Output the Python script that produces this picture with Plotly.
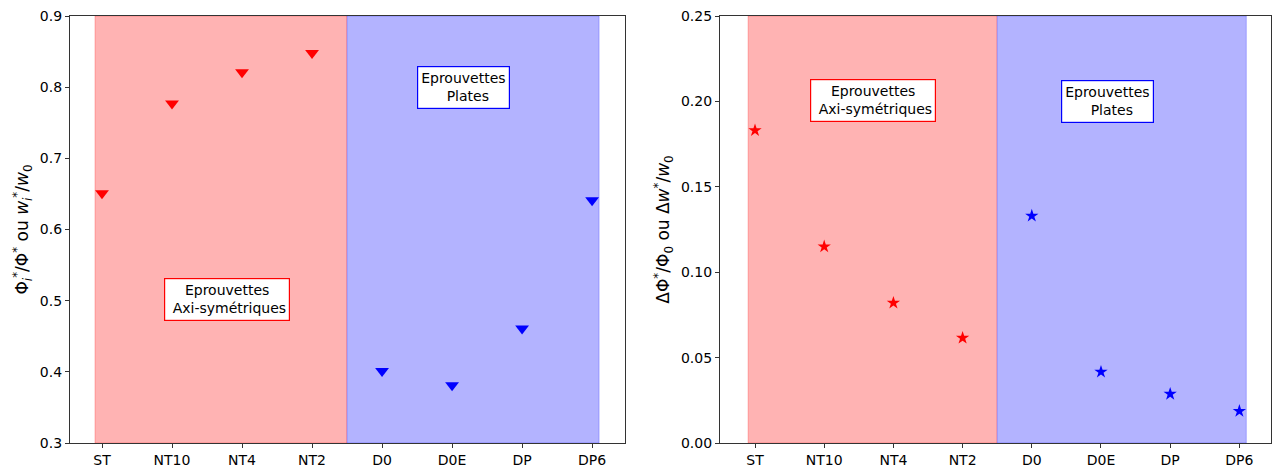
import plotly.graph_objects as go

categories = ["ST", "NT10", "NT4", "NT2", "D0", "D0E", "DP", "DP6"]
axi_cats = categories[:4]
plate_cats = categories[4:]

ratio_axi = [0.651, 0.777, 0.821, 0.848]
ratio_plate = [0.401, 0.381, 0.461, 0.641]

delta_axi = [0.183, 0.115, 0.082, 0.0615]
delta_plate = [0.133, 0.0416, 0.0287, 0.0187]

W, H = 1273, 468
FONT = "DejaVu Sans"

fig = go.Figure()

fig.add_trace(go.Scatter(x=axi_cats, y=ratio_axi, mode="markers",
                         marker=dict(symbol="triangle-down", size=12, color="red"),
                         xaxis="x", yaxis="y", showlegend=False))
fig.add_trace(go.Scatter(x=plate_cats, y=ratio_plate, mode="markers",
                         marker=dict(symbol="triangle-down", size=12, color="blue"),
                         xaxis="x", yaxis="y", showlegend=False))
fig.add_trace(go.Scatter(x=axi_cats, y=delta_axi, mode="markers",
                         marker=dict(symbol="star", size=10, color="red"),
                         xaxis="x2", yaxis="y2", showlegend=False))
fig.add_trace(go.Scatter(x=plate_cats, y=delta_plate, mode="markers",
                         marker=dict(symbol="star", size=10, color="blue"),
                         xaxis="x2", yaxis="y2", showlegend=False))

ydom = [(468 - 443) / H, (468 - 16) / H]
axis_common = dict(showgrid=False, zeroline=False, showline=True, mirror=True,
                   linecolor="#333333", linewidth=1.2, ticks="outside", ticklen=4,
                   tickcolor="#333333", automargin=False,
                   tickfont=dict(family=FONT, size=14, color="black"))

fig.update_layout(
    width=W, height=H,
    margin=dict(l=0, r=0, t=0, b=0, autoexpand=False),
    paper_bgcolor="white", plot_bgcolor="white",
    font=dict(family=FONT, color="black"),
    xaxis=dict(domain=[70 / W, 625 / W], anchor="y", type="category",
               categoryorder="array", categoryarray=categories,
               range=[-0.457, 7.47], **axis_common),
    yaxis=dict(domain=ydom, anchor="x", range=[0.3, 0.9], dtick=0.1, tickformat=".1f",
               title=dict(text="Φ<sub><i>i</i></sub><sup>*</sup>/Φ<sup>*</sup> ou <i>w</i><sub><i>i</i></sub><sup>*</sup>/<i>w</i><sub>0</sub>",
                          font=dict(family=FONT, size=17), standoff=6),
               **axis_common),
    xaxis2=dict(domain=[720 / W, 1271 / W], anchor="y2", type="category",
                categoryorder="array", categoryarray=categories,
                range=[-0.506, 7.457], **axis_common),
    yaxis2=dict(domain=ydom, anchor="x2", range=[0, 0.25], dtick=0.05, tickformat=".2f",
                title=dict(text="ΔΦ<sup>*</sup>/Φ<sub>0</sub> ou Δ<i>w</i><sup>*</sup>/<i>w</i><sub>0</sub>",
                           font=dict(family=FONT, size=17), standoff=6),
                **axis_common),
)

for xr, yr in (("x", "y"), ("x2", "y2")):
    fig.add_shape(type="rect", xref=xr, yref=yr + " domain", x0=-0.1, x1=3.5, y0=0, y1=1,
                  fillcolor="rgb(255,179,179)", line=dict(width=0.8, color="rgba(255,0,0,0.3)"),
                  layer="below")
    fig.add_shape(type="rect", xref=xr, yref=yr + " domain", x0=3.5, x1=7.1, y0=0, y1=1,
                  fillcolor="rgb(179,179,255)", line=dict(width=0.8, color="rgba(0,0,255,0.3)"),
                  layer="below")

ann_font = dict(family=FONT, size=14, color="black")
fig.add_annotation(x=1.79, y=0.501, xref="x", yref="y", text="Eprouvettes<br> Axi-symétriques",
                   showarrow=False, font=ann_font, bgcolor="white", bordercolor="red",
                   borderwidth=1.2, borderpad=3)
fig.add_annotation(x=5.17, y=0.80, xref="x", yref="y", text="Eprouvettes<br>  Plates",
                   showarrow=False, font=ann_font, bgcolor="white", bordercolor="blue",
                   borderwidth=1.2, borderpad=3)
fig.add_annotation(x=1.71, y=0.2008, xref="x2", yref="y2", text="Eprouvettes<br> Axi-symétriques",
                   showarrow=False, font=ann_font, bgcolor="white", bordercolor="red",
                   borderwidth=1.2, borderpad=3)
fig.add_annotation(x=5.09, y=0.2, xref="x2", yref="y2", text="Eprouvettes<br>  Plates",
                   showarrow=False, font=ann_font, bgcolor="white", bordercolor="blue",
                   borderwidth=1.2, borderpad=3)

fig.write_html("out.html", config={"displayModeBar": False},
               post_script="document.body.style.margin='0';document.body.style.overflow='hidden';")
